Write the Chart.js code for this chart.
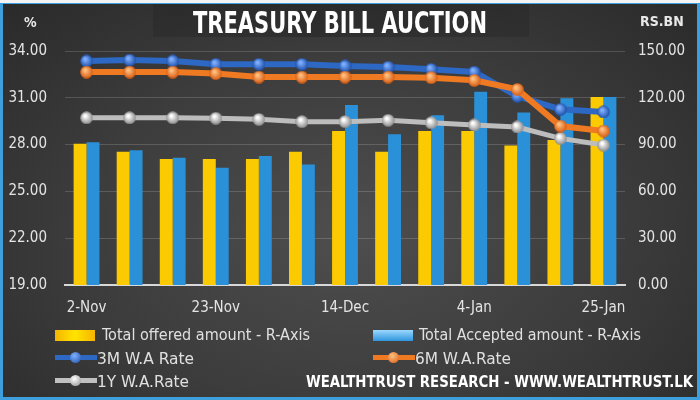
<!DOCTYPE html>
<html lang="en">
<head>
    <meta charset="UTF-8">
    <title>Treasury Bill Auction</title>
    <script src="https://cdn.jsdelivr.net/npm/chart.js"></script>
    <style>
        html, body { margin: 0; padding: 0; }
        body { width: 700px; height: 400px; overflow: hidden; font-family: "DejaVu Sans Condensed", "Open Sans", Arial, sans-serif; }
        #frame {
            position: relative; width: 700px; height: 400px; box-sizing: border-box;
            border: 3px solid #3f9fdc; border-top: 4px solid #3f9fdc;
            background: radial-gradient(ellipse at 50% 58%, #4e4e4e 0%, #3c3c3c 55%, #2a2a2a 100%);
        }
        #topstrip { position: absolute; left: 0; top: 0; width: 700px; height: 3px; background: #f4f4f4; z-index: 3; }
        canvas { position: absolute; left: 0; top: 0; }
        .abs { position: absolute; color: #e8e8e8; white-space: nowrap; transform-origin: 0 50%; }
        #titlebox { position: absolute; left: 150px; top: 0; width: 376px; height: 33px;
                    background: linear-gradient(90deg, rgba(0,0,0,0.12), rgba(0,0,0,0.2) 50%, rgba(0,0,0,0.12)); }
        #title { top: 0px; font-weight: bold; font-size: 31px; color: #fff; }
        .unit { font-weight: bold; font-size: 14px; }
        .leg { font-size: 16px; color: #e0e0e0; }
        .sw { position: absolute; }
    </style>
</head>
<body>
<div id="frame">
    <div id="titlebox"></div>
    <canvas id="grafico" width="694" height="393"></canvas>
    <div class="abs" id="title" data-x="190" data-w="294">TREASURY BILL AUCTION</div>
    <div class="abs unit" style="left:21px; top:10px;">%</div>
    <div class="abs unit" style="left:637px; top:9px;">RS.BN</div>

    <div class="sw" style="left:52px; top:326px; width:40px; height:11px; background:linear-gradient(90deg,#f5b400,#ffe400 50%,#f5b400);"></div>
    <div class="abs leg" id="l0" data-x="99" data-w="208" style="top:321px;"></div>
    <div class="sw" style="left:370px; top:326px; width:40px; height:11px; background:linear-gradient(180deg,#9ad8ff,#2f95dc);"></div>
    <div class="abs leg" id="l1" data-x="416" data-w="222" style="top:321px;"></div>

    <div class="sw" style="left:52px; top:351px; width:42px; height:5px; background:#2c68c4;"></div>
    <div class="sw" style="left:67px; top:348px; width:11px; height:11px; border-radius:50%; background:radial-gradient(circle at 40% 35%,#7fb0ff,#1c4ea8);"></div>
    <div class="abs leg" id="l2" data-x="94" data-w="97" style="top:345px;"></div>
    <div class="sw" style="left:370px; top:351px; width:42px; height:5px; background:#f07a22;"></div>
    <div class="sw" style="left:385px; top:348px; width:11px; height:11px; border-radius:50%; background:radial-gradient(circle at 40% 35%,#ffc080,#d85a10);"></div>
    <div class="abs leg" id="l3" data-x="412" data-w="96" style="top:345px;"></div>

    <div class="sw" style="left:52px; top:374px; width:42px; height:5px; background:#c0c0c0;"></div>
    <div class="sw" style="left:67px; top:371px; width:11px; height:11px; border-radius:50%; background:radial-gradient(circle at 40% 35%,#ffffff,#8a8a8a);"></div>
    <div class="abs leg" id="l4" data-x="94" data-w="92" style="top:368px;"></div>
    <div class="abs" id="marca" data-x="303" data-w="387" style="top:368px; font-weight:bold; font-size:16px; color:#fff;">WEALTHTRUST RESEARCH - WWW.WEALTHTRUST.LK</div>
</div>
<div id="topstrip"></div>

<script>
    // auction dates (weekly)
    const fechas = ["2-Nov", "9-Nov", "16-Nov", "23-Nov", "30-Nov", "7-Dec", "14-Dec",
                    "21-Dec", "28-Dec", "4-Jan", "11-Jan", "18-Jan", "25-Jan"];

    // amounts, Rs.Bn (right axis)
    const ofrecido = [90.5, 85.4, 80.8, 80.8, 80.8, 85.4, 98.7, 85.4, 98.7, 98.7, 89.5, 93.0, 120.5];
    const aceptado = [91.5, 86.3, 81.6, 75.2, 82.7, 77.3, 115.4, 96.6, 108.8, 123.9, 110.5, 119.7, 120.5];

    // weighted average rates, % (left axis)
    const tasa3M = [33.36, 33.42, 33.36, 33.15, 33.15, 33.15, 33.04, 32.97, 32.83, 32.65, 31.10, 30.26, 30.09];
    const tasa6M = [32.65, 32.65, 32.65, 32.55, 32.33, 32.33, 32.33, 32.33, 32.29, 32.12, 31.54, 29.19, 28.87];
    const tasa1Y = [29.72, 29.72, 29.72, 29.69, 29.62, 29.47, 29.47, 29.56, 29.40, 29.26, 29.13, 28.40, 27.97];

    const etiquetas = ["Total offered amount - R-Axis", "Total Accepted amount - R-Axis",
                       "3M W.A Rate", "6M W.A.Rate", "1Y W.A.Rate"];

    etiquetas.forEach((t, i) => document.getElementById("l" + i).textContent = t);

    // squeeze texts to the narrow width of the original font
    document.querySelectorAll("[data-w]").forEach(el => {
        const w = el.getBoundingClientRect().width;
        el.style.left = el.dataset.x + "px";
        el.style.transform = "scaleX(" + (el.dataset.w / w) + ")";
    });

    function bola(c1, c2) {
        const cv = document.createElement("canvas");
        cv.width = 13; cv.height = 13;
        const g = cv.getContext("2d");
        const grad = g.createRadialGradient(5, 4.5, 1, 6.5, 6.5, 6.5);
        grad.addColorStop(0, c1);
        grad.addColorStop(1, c2);
        g.fillStyle = grad;
        g.beginPath();
        g.arc(6.5, 6.5, 6.3, 0, Math.PI * 2);
        g.fill();
        return cv;
    }

    const fuente = { family: '"DejaVu Sans Condensed", "Open Sans", Arial, sans-serif', size: 15 };

    const ctx = document.getElementById("grafico").getContext("2d");
    new Chart(ctx, {
        data: {
            labels: fechas,
            datasets: [
                { type: "line", label: etiquetas[3], data: tasa6M, yAxisID: "y", order: 1,
                  borderColor: "#f07a22", borderWidth: 6, pointStyle: bola("#ffc080", "#d85a10"), pointRadius: 6.5 },
                { type: "line", label: etiquetas[2], data: tasa3M, yAxisID: "y", order: 2,
                  borderColor: "#2c68c4", borderWidth: 6, pointStyle: bola("#7fb0ff", "#1c4ea8"), pointRadius: 6.5 },
                { type: "line", label: etiquetas[4], data: tasa1Y, yAxisID: "y", order: 3,
                  borderColor: "#bdbdbd", borderWidth: 5, pointStyle: bola("#ffffff", "#8a8a8a"), pointRadius: 6.5 },
                { type: "bar", label: etiquetas[0], data: ofrecido, yAxisID: "y1", order: 4,
                  backgroundColor: "#fcca00", barPercentage: 1, categoryPercentage: 0.6 },
                { type: "bar", label: etiquetas[1], data: aceptado, yAxisID: "y1", order: 5,
                  backgroundColor: "#2a90d8", barPercentage: 1, categoryPercentage: 0.6 }
            ]
        },
        options: {
            responsive: false,
            animation: false,
            layout: { padding: { top: 47, left: 0, right: 0, bottom: 0 } },
            plugins: { legend: { display: false }, tooltip: { enabled: false } },
            scales: {
                x: {
                    grid: { display: false },
                    border: { color: "#d8d8d8", width: 2 },
                    ticks: {
                        color: "#e4e4e4", font: fuente, autoSkip: false, maxRotation: 0, padding: 6,
                        callback: (v, i) => i % 3 === 0 ? fechas[i] : ""
                    },
                    afterFit: s => { s.height = 112; }
                },
                y: {
                    position: "left", min: 19, max: 34,
                    grid: { color: "rgba(255,255,255,0.16)", drawTicks: false },
                    border: { display: false },
                    ticks: { stepSize: 3, color: "#e4e4e4", font: fuente, padding: 18,
                             callback: v => v.toFixed(2) },
                    afterFit: s => { s.width = 62; }
                },
                y1: {
                    position: "right", min: 0, max: 150,
                    grid: { display: false, drawTicks: false },
                    border: { display: false },
                    ticks: { stepSize: 30, color: "#e4e4e4", font: fuente, padding: 13,
                             callback: v => v.toFixed(2) },
                    afterFit: s => { s.width = 72; }
                }
            }
        }
    });
</script>
</body>
</html>
